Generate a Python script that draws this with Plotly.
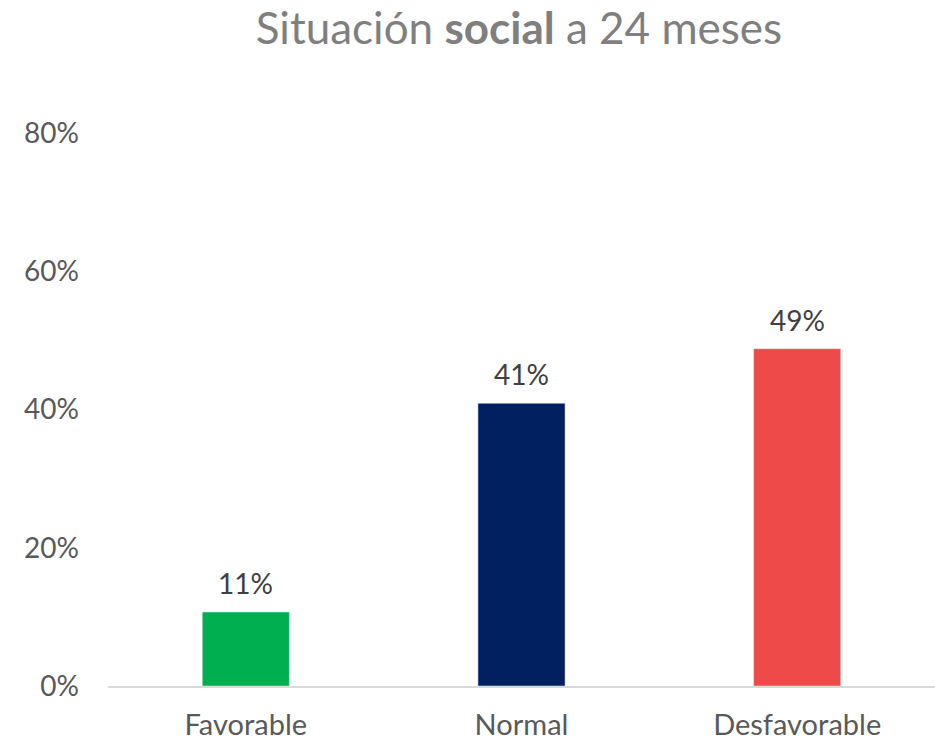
import plotly.graph_objects as go

categories = ["Favorable", "Normal", "Desfavorable"]
values = [0.107, 0.409, 0.488]
colors = ["#00B050", "#002060", "#EF4A4A"]
y_ticks = [0, 0.2, 0.4, 0.6, 0.8]

fig = go.Figure(go.Bar(
    x=categories, y=values, marker_color=colors, width=0.316,
    hoverinfo="skip",
))

for c, v in zip(categories, values):
    fig.add_annotation(x=c, y=v, text=f"{v:.0%}", showarrow=False,
                       yanchor="bottom", yshift=10,
                       font=dict(family="Lato", size=28, color="#404040"))

fig.update_layout(
    width=935, height=743,
    margin=dict(l=108, r=0, t=133, b=57),
    paper_bgcolor="white", plot_bgcolor="white",
    font=dict(family="Lato", size=28, color="#595959"),
    title=dict(text="Situación <b>social</b> a 24 meses", x=0.555, xanchor="center",
               y=0.962, yanchor="middle",
               font=dict(family="Lato", size=44, color="#7F7F7F")),
    showlegend=False,
)
fig.update_yaxes(range=[0, 0.8], tickvals=y_ticks, tickformat=".0%", showgrid=False,
                 zeroline=False, ticklabelstandoff=28, tickfont=dict(size=28, color="#595959"))
fig.update_xaxes(showline=True, linecolor="#D9D9D9", linewidth=1.5, ticks="",
                 ticklabelstandoff=12, tickfont=dict(size=29, color="#595959"))

fig.write_html("out.html", config={"displayModeBar": False},
               post_script="document.body.style.margin='0';document.body.style.overflow='hidden';")
